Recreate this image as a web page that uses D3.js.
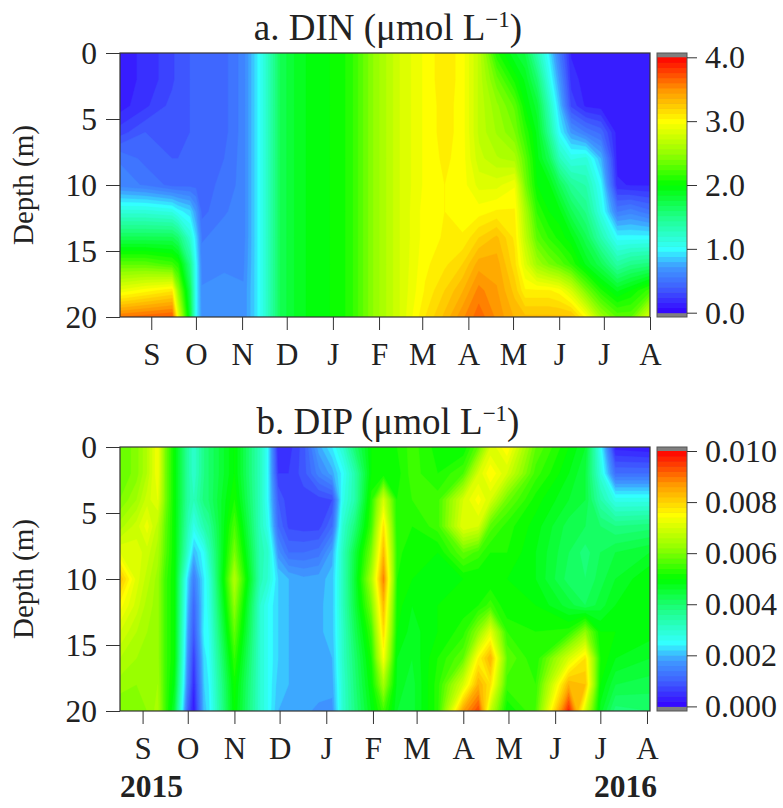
<!DOCTYPE html>
<html><head><meta charset="utf-8">
<script src="https://cdn.jsdelivr.net/npm/d3@7"></script>
<style>
html,body{margin:0;padding:0;background:#fff}
svg{display:block}
text{font-family:"Liberation Serif","Times New Roman",serif;fill:#222}
</style></head><body>
<svg id="c" width="783" height="808"></svg>
<script>
const monthLabels = ["S","O","N","D","J","F","M","A","M","J","J","A"];
const monthTicks = ["2015-09-01","2015-10-01","2015-11-01","2015-12-01","2016-01-01","2016-02-01","2016-03-01","2016-04-01","2016-05-01","2016-06-01","2016-07-01","2016-08-01"];
const depthTicks = [0,5,10,15,20];
const depthLevels = [0,2,4,6,8,10,12,14,16,18,20];

const dinDates = ["2015-08-11","2015-08-28","2015-09-15","2015-09-19","2015-09-27","2015-10-01","2015-10-05","2015-10-20","2015-11-02","2015-11-10","2015-11-16","2015-11-27","2015-12-10","2015-12-30","2016-01-12","2016-01-29","2016-02-15","2016-03-03","2016-03-16","2016-03-28","2016-04-08","2016-04-20","2016-05-02","2016-05-09","2016-05-17","2016-05-25","2016-06-01","2016-06-09","2016-06-19","2016-06-29","2016-07-10","2016-07-19","2016-08-01"];
const dinValues = [
[.12,.12,.12,.28,.55,.6,1.15,1.7,2.3,2.9,3.6],
[.18,.18,.22,.4,.45,.55,1.15,1.7,2.3,3.0,3.65],
[.3,.3,.35,.35,.4,.45,1.1,1.7,2.2,3.1,3.7],
[.35,.35,.35,.35,.4,.45,1.0,1.6,2.1,2.5,2.9],
[.4,.4,.4,.4,.4,.45,.9,1.2,1.5,1.7,1.8],
[.4,.4,.4,.4,.4,.45,.7,.9,1.0,1.0,1.0],
[.4,.4,.4,.4,.42,.45,.45,.55,.6,.65,.68],
[.45,.45,.45,.45,.48,.5,.55,.6,.63,.66,.68],
[.6,.6,.6,.6,.6,.6,.6,.6,.62,.65,.65],
[.9,.9,.9,.9,.9,.9,.9,.9,.9,.9,.9],
[1.15,1.15,1.15,1.15,1.15,1.15,1.15,1.15,1.15,1.15,1.15],
[1.7,1.7,1.7,1.7,1.7,1.7,1.7,1.7,1.7,1.7,1.7],
[1.9,1.9,1.9,1.9,1.9,1.9,1.9,1.9,1.9,1.9,1.9],
[2,2,2,2,2,2,2,2,2,2,2],
[2.1,2.1,2.1,2.1,2.1,2.1,2.1,2.1,2.1,2.1,2.1],
[2.5,2.5,2.5,2.5,2.5,2.5,2.5,2.5,2.5,2.5,2.5],
[2.8,2.8,2.8,2.8,2.8,2.8,2.8,2.8,2.8,2.8,2.8],
[2.98,2.98,2.98,2.98,2.98,2.98,3,3,3.02,3.05,3.12],
[3.1,3.1,3.08,3.08,3.06,3.04,3.04,3.05,3.1,3.2,3.3],
[3,3,3,3,3,3,3,3.05,3.2,3.35,3.5],
[2.7,2.7,2.7,2.7,2.75,2.85,3,3.2,3.4,3.55,3.65],
[2.1,2.35,2.5,2.55,2.65,2.85,3.05,3.3,3.4,3.45,3.5],
[1.85,2.05,2.3,2.4,2.6,2.95,3.05,3.1,3.15,3.25,3.35],
[1.75,1.9,2,2.15,2.3,2.4,2.6,2.7,2.85,3.05,3.3],
[1.35,1.6,1.8,1.9,1.95,2,2.15,2.3,2.55,3.05,3.3],
[.95,1.1,1.3,1.45,1.7,1.95,2,2.15,2.4,3.05,3.3],
[.55,.7,.85,1,1.3,1.7,1.95,2.05,2.3,3,3.3],
[.15,.2,.3,.7,1.1,1.45,1.7,1.95,2.15,2.8,3.3],
[.12,.12,.14,.55,1.15,1.35,1.5,1.7,1.9,2.4,3],
[.1,.1,.12,.45,.8,1,1.1,1.35,1.7,2.1,2.55],
[.08,.08,.08,.12,.12,.18,.55,1,1.4,1.9,2.3],
[.08,.08,.08,.08,.08,.15,.6,1,1.5,2,2.3],
[.08,.08,.08,.08,.08,.15,.5,1,1.55,2.2,2.85]];

const dipDates = ["2015-08-17","2015-08-28","2015-09-04","2015-09-11","2015-09-16","2015-09-22","2015-10-01","2015-10-05","2015-10-12","2015-10-15","2015-11-01","2015-11-18","2015-11-23","2015-11-30","2015-12-07","2015-12-17","2015-12-27","2016-01-05","2016-01-12","2016-01-20","2016-01-31","2016-02-08","2016-02-17","2016-02-27","2016-03-15","2016-04-01","2016-04-11","2016-04-19","2016-04-30","2016-05-19","2016-06-10","2016-06-21","2016-07-01","2016-07-11","2016-08-03"];
const dipThousandths = [
[5.8,5.8,6,6.5,7.2,8.2,7.5,7,6.6,6.3,6],
[6.1,6.1,6.4,6.9,7.1,7.1,6.9,6.6,6.4,6.2,6.1],
[6.6,6.6,6.9,7.3,6.9,6.7,6.5,6.4,6.3,6.2,6.2],
[7.4,7.4,7.2,6.7,6.5,6.3,6.3,6.3,6.3,6.4,6.5],
[6,6,6,5.8,5.7,5.5,5.5,5.5,5.5,5.5,5.5],
[5,5,5,5,5,5,5,5,5,4.8,4.5],
[3.5,3.5,3.5,3.3,3,2.2,2,1.8,1.6,1.4,1],
[3,3,3.2,2.7,2,1.4,1.1,.9,.6,.4,.2],
[3.8,3.8,3.9,3.4,2.6,2.4,2.4,2.5,2.3,2.2,2.1],
[4,4,4,3.6,3.2,2.8,2.7,2.6,2.5,2.4,2.3],
[5,5,5.2,5.6,6,6.6,6.2,5.8,5.4,5.1,5],
[3.2,3.2,3.2,3.2,3.3,3.3,3,3,3,3,3],
[2.5,2.5,2.5,2.7,3.1,3,2.6,2.6,2.6,2.6,2.6],
[.4,.6,1,1.2,1.7,2.2,2.2,2.2,2.2,2.1,2],
[.5,.6,.65,.75,1.2,2,2,2,2,2,1.95],
[.9,.9,.7,.7,1.2,1.85,1.95,1.95,1.95,1.9,1.85],
[1.9,1.5,.7,.7,1.3,1.9,1.95,1.95,1.95,1.9,1.75],
[2.4,1.9,.8,1.2,1.9,2.1,2.1,2.1,2,1.9,1.7],
[3,2.5,2.7,3,3.2,3.2,3.2,3.1,3.1,3,3],
[4,3.4,3.4,3.9,4.4,4.5,4.4,4.2,4,3.9,3.8],
[5,5,5.3,5.5,6,6.5,6,5.5,5.2,5,4.8],
[5,5,7,7.8,8.3,8.9,8.3,7.9,7.4,6.4,5.5],
[5.2,5.1,5.2,5.2,5.3,5.2,5.1,5,4.8,4.7,4.6],
[5.5,5.5,5.4,5.2,5,5,4.8,4.7,4.6,4.5,4.5],
[5.1,5.2,5.5,5.5,5,4.9,5,5,5.2,5.3,5.3],
[5,5.6,7,7.2,5.8,5,5.1,5.3,5.8,7,8.6],
[5.8,7,7.5,7,5.5,5,5.2,6.2,7.6,8.4,9.4],
[7,7.6,7,5.7,5.2,5,5.5,7.2,8.4,7.8,6.8],
[7.6,7,5.9,5.3,5.2,5,5,5.4,5.8,5.5,5],
[5.8,5.5,5.1,4.9,4.8,4.8,5,5.2,5.2,5.4,5.6],
[5,4.8,4.6,4.3,4.2,4.1,4.5,5.3,7,8.4,9.7],
[4.6,4.4,4.4,4.2,3.9,4,4.2,6.2,7.8,8.2,7],
[2.6,2.9,3.4,4,4.2,4.3,4.5,5,5.2,5,4.7],
[.3,1.2,2.7,3.8,4.4,4.6,4.8,5,4.8,4.4,3.9],
[.2,1.2,2.7,3.9,4.6,5,5,4.9,4.6,4.3,4]];

const dinBarTicks = [0,1,2,3,4];
const dipBarTicks = [0,.002,.004,.006,.008,.01];
const rampStops = [0,.1,.18,.25,.37,.5,.62,.75,.87,1];
const rampColors = ["#3300ff","#3f60ff","#3f99ff","#33ffff","#20ff90","#00ff00","#90ff00","#ffff00","#ff9900","#ff0000"];

const parse = d3.timeParse("%Y-%m-%d");
const ramp = d3.scaleLinear().domain(rampStops).range(rampColors).interpolate(d3.interpolateRgb);
const BANDS = 50;
const svg = d3.select("#c");
const ink = "#333";

function panel(o){
  const x = d3.scaleTime().domain(o.domain.map(parse)).range([120,650]);
  const y = d3.scaleLinear().domain([0,20]).range([o.top,o.top+264]);
  const nx = o.dates.length, ny = depthLevels.length;
  const grid = [];
  for(let j=0;j<ny;j++) for(let i=0;i<nx;i++) grid.push(o.values[i][j]/o.max);
  const thresholds = d3.range(1,BANDS).map(k=>k/BANDS);
  const fx = d3.scaleLinear().domain(d3.range(nx).map(i=>i+.5)).range(o.dates.map(d=>x(parse(d)))).clamp(true);
  const fy = d3.scaleLinear().domain(d3.range(ny).map(j=>j+.5)).range(depthLevels.map(d=>y(d))).clamp(true);
  const path = d3.geoPath(d3.geoTransform({point(a,b){this.stream.point(fx(a),fy(b));}}));
  const g = svg.append("g");
  const clipId = "clip"+o.top;
  svg.append("clipPath").attr("id",clipId).append("rect").attr("x",120).attr("y",o.top).attr("width",530).attr("height",264);
  const field = g.append("g").attr("clip-path",`url(#${clipId})`);
  field.append("rect").attr("x",120).attr("y",o.top).attr("width",530).attr("height",264).attr("fill",ramp(.5/BANDS));
  const contours = d3.contours().size([nx,ny]).smooth(true).thresholds(thresholds)(grid);
  field.selectAll("path").data(contours).join("path")
    .attr("d",path).attr("fill",d=>ramp(d.value+.5/BANDS)).attr("stroke",d=>ramp(d.value+.5/BANDS)).attr("stroke-width",.4);
  g.append("rect").attr("x",120).attr("y",o.top).attr("width",530).attr("height",264).attr("fill","none").attr("stroke",ink).attr("stroke-width",1.2);

  const ax = g.append("g").attr("transform",`translate(0,${o.top+264})`)
    .call(d3.axisBottom(x).tickValues(monthTicks.map(parse)).tickSize(13).tickFormat((d,i)=>monthLabels[i]));
  ax.select(".domain").remove();
  ax.selectAll("line").attr("stroke",ink);
  ax.selectAll("text").attr("font-size",31).attr("y",o.monthDy).attr("dy",0);
  const ay = g.append("g").attr("transform","translate(120,0)")
    .call(d3.axisLeft(y).tickValues(depthTicks).tickSize(14).tickFormat(d3.format("d")));
  ay.select(".domain").remove();
  ay.selectAll("line").attr("stroke",ink);
  ay.selectAll("text").attr("font-size",31.5).attr("x",-23).attr("dy",10.5).attr("text-anchor","end");

  g.append("text").attr("transform",`translate(33,${o.top+132}) rotate(-90)`).attr("text-anchor","middle").attr("font-size",29).text("Depth (m)");
  const t = g.append("text").attr("x",388).attr("y",o.top-13).attr("text-anchor","middle").attr("font-size",37);
  t.append("tspan").text(o.title+" (μmol L");
  t.append("tspan").attr("dy",-13).attr("font-size",23).text("−1");
  t.append("tspan").attr("dy",13).text(")");

  // colour bar
  const by = d3.scaleLinear().domain([0,o.max]).range([o.top+o.barInset+255.4,o.top+o.barInset]);
  const bar = g.append("g");
  bar.append("rect").attr("x",657).attr("y",o.top).attr("width",30).attr("height",264).attr("fill","#808080");
  bar.selectAll("rect.b").data(d3.range(BANDS)).join("rect").attr("class","b")
    .attr("x",657).attr("width",30)
    .attr("y",k=>by((k+1)/BANDS*o.max)).attr("height",k=>by(k/BANDS*o.max)-by((k+1)/BANDS*o.max)+.5)
    .attr("fill",k=>ramp((k+.5)/BANDS));
  bar.append("rect").attr("x",657).attr("y",o.top).attr("width",30).attr("height",264).attr("fill","none").attr("stroke","#555").attr("stroke-width",1);
  const ac = g.append("g").attr("transform","translate(687,0)")
    .call(d3.axisRight(by).tickValues(o.barTicks).tickSize(10).tickFormat(d3.format(o.barFmt)));
  ac.select(".domain").remove();
  ac.selectAll("line").attr("stroke",ink);
  ac.selectAll("text").attr("font-size",32).attr("x",18).attr("dy",10.5);
}

panel({top:53,domain:["2015-08-11","2016-08-01"],dates:dinDates,values:dinValues,max:4,title:"a. DIN",monthDy:48,barInset:4.3,barTicks:dinBarTicks,barFmt:".1f"});
panel({top:447,domain:["2015-08-17","2016-08-03"],dates:dipDates,values:dipThousandths.map(c=>c.map(v=>v/1000)),max:.01,title:"b. DIP",monthDy:48,barInset:4,barTicks:dipBarTicks,barFmt:".3f"});

svg.append("text").attr("x",120).attr("y",797).attr("font-size",31.5).attr("font-weight","bold").text("2015");
svg.append("text").attr("x",594).attr("y",797).attr("font-size",31.5).attr("font-weight","bold").text("2016");
</script>
</body></html>
